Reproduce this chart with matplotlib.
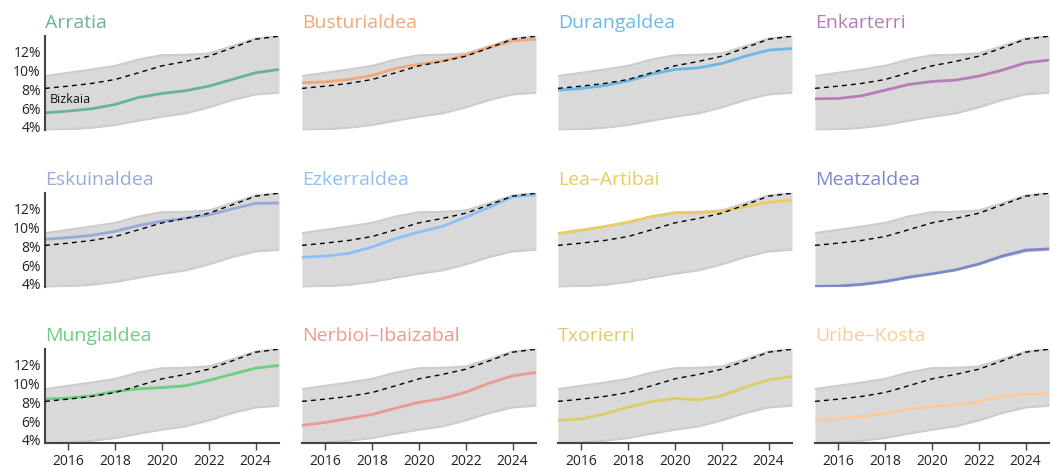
import numpy as np
import matplotlib
matplotlib.use("Agg")
import matplotlib.pyplot as plt

plt.rcParams['font.family'] = ['Open Sans', 'DejaVu Sans']

years = np.arange(2015, 2026)

# Bizkaia reference and the min/max band over all comarcas (%)
bizkaia = [8.1, 8.34, 8.63, 9.05, 9.77, 10.51, 10.98, 11.54, 12.43, 13.36, 13.68]
band_high = [9.41, 9.77, 10.12, 10.51, 11.19, 11.65, 11.69, 11.83, 12.61, 13.43, 13.68]
band_low = [3.64, 3.72, 3.89, 4.18, 4.64, 5.07, 5.42, 6.06, 6.85, 7.45, 7.63]

names = ['Arratia', 'Busturialdea', 'Durangaldea', 'Enkarterri',
         'Eskuinaldea', 'Ezkerraldea', 'Lea\u2013Artibai', 'Meatzaldea',
         'Mungialdea', 'Nerbioi\u2013Ibaizabal', 'Txorierri', 'Uribe\u2013Kosta']

arratia = [5.49, 5.67, 5.92, 6.38, 7.13, 7.56, 7.84, 8.34, 9.05, 9.77, 10.12]
busturialdea = [8.70, 8.80, 9.05, 9.48, 10.23, 10.69, 11.05, 11.65, 12.47, 13.18, 13.36]
durangaldea = [7.91, 8.09, 8.41, 8.91, 9.62, 10.12, 10.30, 10.76, 11.54, 12.19, 12.36]
enkarterri = [6.99, 7.02, 7.31, 7.91, 8.52, 8.84, 8.98, 9.41, 10.05, 10.83, 11.12]
eskuinaldea = [8.75, 8.93, 9.17, 9.60, 10.23, 10.69, 11.0, 11.36, 11.99, 12.59, 12.63]
ezkerraldea = [6.82, 6.96, 7.24, 7.94, 8.82, 9.53, 10.13, 11.12, 12.17, 13.3, 13.5]
lea_artibai = [9.35, 9.70, 10.13, 10.58, 11.18, 11.57, 11.61, 11.71, 12.24, 12.70, 12.95]
meatzaldea = [3.72, 3.75, 3.93, 4.25, 4.70, 5.06, 5.48, 6.11, 6.96, 7.59, 7.73]
mungialdea = [8.34, 8.45, 8.70, 9.16, 9.44, 9.58, 9.77, 10.34, 11.01, 11.65, 11.94]
nerbioi = [5.53, 5.85, 6.28, 6.70, 7.38, 7.99, 8.41, 9.09, 10.05, 10.83, 11.19]
txorierri = [6.06, 6.24, 6.77, 7.49, 8.09, 8.41, 8.27, 8.70, 9.63, 10.41, 10.77]
uribe_kosta = [6.21, 6.24, 6.49, 6.85, 7.27, 7.56, 7.74, 8.09, 8.63, 8.88, 8.88]

series = [arratia, busturialdea, durangaldea, enkarterri, eskuinaldea, ezkerraldea,
          lea_artibai, meatzaldea, mungialdea, nerbioi, txorierri, uribe_kosta]
colors = ['#68b49a', '#f0a97a', '#6ab8e6', '#b57cb8', '#96abdb', '#8fbff7',
          '#e9cd63', '#7d87cb', '#6dcf80', '#ea9a90', '#dccc66', '#fdcb9a']

fig = plt.figure(figsize=(10.51, 4.67), dpi=100)
W, H = 1051, 467
lefts = [45, 302, 558, 815]
tops = [36, 193, 349]
aw, ah = 234, 94

for i, (name, vals, col) in enumerate(zip(names, series, colors)):
    r, c = divmod(i, 4)
    ax = fig.add_axes([lefts[c] / W, 1 - (tops[r] + ah) / H, aw / W, ah / H])
    ax.fill_between(years, band_low, band_high, color='#d9d9d9', lw=0, zorder=1)
    ax.plot(years, band_low, color='#cccccc', lw=1.5, zorder=1)
    ax.plot(years, band_high, color='#cccccc', lw=1.5, zorder=1)
    ax.plot(years, bizkaia, color='black', lw=1, ls=(0, (3.5, 3)), zorder=3)
    ax.plot(years, vals, color=col, lw=2, zorder=2)
    ax.set_xlim(2015, 2025)
    ax.set_ylim(3.65, 13.7)
    ax.set_title(name, loc='left', color=col, fontsize=14, pad=6)
    for s in ['top', 'right']:
        ax.spines[s].set_visible(False)
    if c == 0:
        ax.spines['left'].set_color('#444444')
        ax.spines['left'].set_linewidth(1.5)
        ax.set_yticks([4, 6, 8, 10, 12])
        ax.set_yticklabels(['4%', '6%', '8%', '10%', '12%'])
        ax.tick_params(axis='y', length=0, pad=3, labelsize=10, labelcolor='#222222')
    else:
        ax.spines['left'].set_visible(False)
        ax.set_yticks([])
    if r == 2:
        ax.spines['bottom'].set_color('#444444')
        ax.spines['bottom'].set_linewidth(1.5)
        ax.set_xticks([2016, 2018, 2020, 2022, 2024])
        ax.tick_params(axis='x', length=5, width=1, color='#444444', pad=3,
                       labelsize=10, labelcolor='#222222')
    else:
        ax.spines['bottom'].set_visible(False)
        ax.set_xticks([])
    if i == 0:
        ax.text(2015.2, bizkaia[0] - 0.5, 'Bizkaia', fontsize=9, color='#111111',
                va='top', ha='left', zorder=4)

fig.savefig('out.png', dpi=100)
